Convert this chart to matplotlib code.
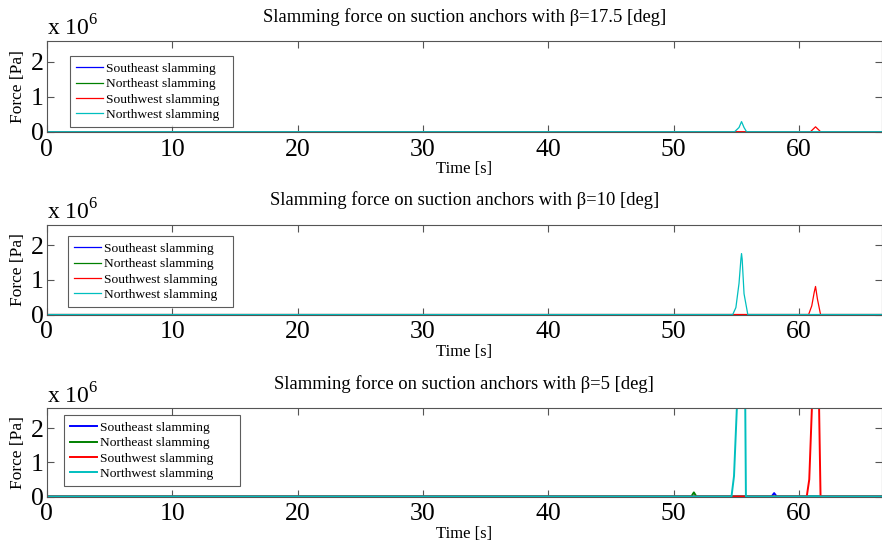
import matplotlib
matplotlib.use("Agg")
import matplotlib.pyplot as plt
from matplotlib.ticker import FuncFormatter

plt.rcParams['font.family'] = ['Liberation Serif', 'DejaVu Serif']
plt.rcParams['mathtext.fontset'] = 'custom'
plt.rcParams['mathtext.rm'] = 'Liberation Serif'

T_END = 66.6

# Slamming force time histories (time in s, force in Pa) for each anchor
# beta = 17.5 deg
se_t_175 = [0.0, T_END]
se_f_175 = [0.0, 0.0]
ne_t_175 = [0.0, T_END]
ne_f_175 = [0.0, 0.0]
sw_t_175 = [0.0, 60.9, 61.3, 61.7, T_END]
sw_f_175 = [0.0, 0.0, 0.14e6, 0.0, 0.0]
nw_t_175 = [0.0, 54.85, 55.2, 55.4, 55.6, 55.8, T_END]
nw_f_175 = [0.0, 0.0, 0.12e6, 0.29e6, 0.12e6, 0.0, 0.0]

# beta = 10 deg
se_t_10 = [0.0, T_END]
se_f_10 = [0.0, 0.0]
ne_t_10 = [0.0, T_END]
ne_f_10 = [0.0, 0.0]
sw_t_10 = [0.0, 60.75, 61.0, 61.2, 61.3, 61.45, 61.7, T_END]
sw_f_10 = [0.0, 0.0, 0.25e6, 0.65e6, 0.81e6, 0.45e6, 0.0, 0.0]
nw_t_10 = [0.0, 54.7, 54.95, 55.2, 55.35, 55.4, 55.45, 55.6, 55.9, T_END]
nw_f_10 = [0.0, 0.0, 0.2e6, 0.9e6, 1.6e6, 1.76e6, 1.6e6, 0.6e6, 0.0, 0.0]

# beta = 5 deg
se_t_5 = [0.0, 57.8, 58.0, 58.2, T_END]
se_f_5 = [0.0, 0.0, 0.1e6, 0.0, 0.0]
ne_t_5 = [0.0, 51.4, 51.6, 51.8, T_END]
ne_f_5 = [0.0, 0.0, 0.12e6, 0.0, 0.0]
sw_t_5 = [0.0, 60.6, 60.8, 61.2, 61.5, 61.7, T_END]
sw_f_5 = [0.0, 0.0, 0.5e6, 4.5e6, 4.5e6, 0.0, 0.0]
nw_t_5 = [0.0, 54.6, 54.8, 55.3, 55.65, 55.75, T_END]
nw_f_5 = [0.0, 0.0, 0.6e6, 5.0e6, 5.0e6, 0.0, 0.0]

betas = ["17.5", "10", "5"]
series = [
    [(se_t_175, se_f_175), (ne_t_175, ne_f_175), (sw_t_175, sw_f_175), (nw_t_175, nw_f_175)],
    [(se_t_10, se_f_10), (ne_t_10, ne_f_10), (sw_t_10, sw_f_10), (nw_t_10, nw_f_10)],
    [(se_t_5, se_f_5), (ne_t_5, ne_f_5), (sw_t_5, sw_f_5), (nw_t_5, nw_f_5)],
]
names = ["Southeast slamming", "Northeast slamming", "Southwest slamming", "Northwest slamming"]
colors = ["#0000ff", "#008000", "#ff0000", "#00bfbf"]
widths = [0.9, 0.9, 1.4]
x_ticks = [0, 10, 20, 30, 40, 50, 60]
y_ticks = [0, 1e6, 2e6]

W, H = 882, 547
fig = plt.figure(figsize=(W / 100, H / 100), dpi=100)

# axes boxes in pixels: (left, top, bottom)
boxes = [(46.7, 41, 131.7), (46.7, 224.5, 314.5), (46.7, 408, 496.5)]
# legend frames in pixels: (left, top, right)
legend_boxes = [(70, 57, 233), (68, 237, 233), (64, 416, 240)]

for i, (beta, data) in enumerate(zip(betas, series)):
    left, top, bottom = boxes[i]
    h = bottom - top
    w = W - left
    ax = fig.add_axes([left / W, (H - bottom) / H, w / W, h / H])
    for (t, f), name, c in zip(data, names, colors):
        ax.plot(t, f, color=c, lw=widths[i], label=name)
    ax.set_xlim(0, T_END)
    ax.set_ylim(0, 2.6e6)
    ax.set_xticks(x_ticks)
    ax.set_yticks(y_ticks)
    ax.yaxis.set_major_formatter(FuncFormatter(lambda v, p: f"{v / 1e6:g}"))
    ax.tick_params(direction="in", length=5, width=0.8, color="#555555",
                   labelsize=18.5, top=True, right=True)
    ax.tick_params(axis="x", pad=5)
    ax.tick_params(axis="y", pad=2)
    for s in ax.spines.values():
        s.set_color("#555555")
        s.set_linewidth(0.8)
    ax.set_title(f"Slamming force on suction anchors with \u03b2={beta} [deg]",
                 fontsize=13.4, pad=14)
    ax.set_xlabel("Time [s]", fontsize=12, va="center")
    ax.xaxis.set_label_coords(0.5, -37.5 / h)
    ax.set_ylabel("Force [Pa]", fontsize=12.5, va="center")
    ax.yaxis.set_label_coords((18 - left) / w, 0.5)
    ax.text(0.0, 1.0 + 5 / h, r"x 10$^{6}$", transform=ax.transAxes, fontsize=17,
            ha="left", va="baseline")
    lx, ly, rx = legend_boxes[i]
    leg = ax.legend(loc="upper left",
                    bbox_to_anchor=(lx / W, 1 - ly / H, (rx - lx) / W, 0.001),
                    bbox_transform=fig.transFigure, mode="expand",
                    prop={"size": 9.7}, frameon=True,
                    fancybox=False, edgecolor="#333333", handlelength=2.0,
                    handletextpad=0.25, labelspacing=0.22, borderpad=0.45,
                    borderaxespad=0)
    leg.get_frame().set_linewidth(0.8)

fig.savefig("out.png", dpi=100)
